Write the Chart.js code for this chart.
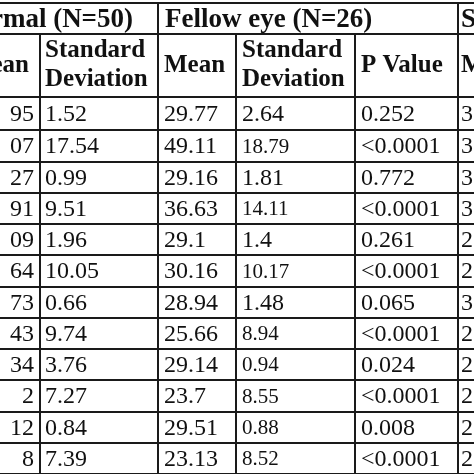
<!DOCTYPE html>
<html><head><meta charset="utf-8">
<script src="https://cdn.jsdelivr.net/npm/chart.js@4/dist/chart.umd.min.js"></script>
<style>html,body{margin:0;padding:0;background:#fff}#w{width:474px;height:474px}</style>
</head><body><div id="w"><canvas id="c"></canvas></div>
<script>
const groupHeaders = ["Normal (N=50)", "Fellow eye (N=26)", "S"];
const normalMean = ["95","07","27","91","09","64","73","43","34","2","12","8"];
const normalSD = ["1.52","17.54","0.99","9.51","1.96","10.05","0.66","9.74","3.76","7.27","0.84","7.39"];
const fellowMean = ["29.77","49.11","29.16","36.63","29.1","30.16","28.94","25.66","29.14","23.7","29.51","23.13"];
const fellowSD = ["2.64","18.79","1.81","14.11","1.4","10.17","1.48","8.94","0.94","8.55","0.88","8.52"];
const fellowSDsmall = [false,true,false,true,false,true,false,true,true,true,true,true];
const pValues = ["0.252","<0.0001","0.772","<0.0001","0.261","<0.0001","0.065","<0.0001","0.024","<0.0001","0.008","<0.0001"];
const nextCol = ["3","3","3","3","2","2","3","2","2","2","2","2"];

const colX = [40,158,236,355,458];
const rowY = [3,34,97,130,162,193,224,255,287,318,349,380,412,443,474];

const tablePlugin = {
  id:'table',
  afterDraw(chart){
    const ctx = chart.ctx, xs = chart.scales.x, ys = chart.scales.y;
    const X = v=>xs.getPixelForValue(v), Y = v=>ys.getPixelForValue(v);
    ctx.save();
    ctx.fillStyle='#fff'; ctx.fillRect(0,0,chart.width,chart.height);
    ctx.strokeStyle='#1a1a1a'; ctx.lineWidth=2;
    rowY.forEach(y=>{ctx.beginPath();ctx.moveTo(X(0),Y(y));ctx.lineTo(X(474),Y(y));ctx.stroke();});
    colX.forEach((x,i)=>{
      const top = (i===0||i===2||i===3) ? rowY[1] : rowY[0];
      ctx.beginPath();ctx.moveTo(X(x),Y(top));ctx.lineTo(X(x),Y(474));ctx.stroke();
    });
    ctx.fillStyle='#111'; ctx.textBaseline='middle';
    const reg='24px "Liberation Serif", serif';
    ctx.font='bold 27px "Liberation Serif", serif'; ctx.textAlign='right';
    ctx.fillText(groupHeaders[0], X(133), Y(20));
    ctx.textAlign='left';
    ctx.fillText(groupHeaders[1], X(165), Y(20));
    ctx.fillText(groupHeaders[2], X(461), Y(20));
    ctx.font='bold 25px "Liberation Serif", serif';
    ctx.textAlign='right'; ctx.fillText("Mean", X(29), Y(66));
    ctx.textAlign='left';
    ctx.fillText("Standard", X(45), Y(51)); ctx.fillText("Deviation", X(45), Y(80));
    ctx.fillText("Mean", X(164), Y(66));
    ctx.fillText("Standard", X(242), Y(51)); ctx.fillText("Deviation", X(242), Y(80));
    ctx.fillText("P Value", X(361), Y(66));
    ctx.fillText("M", X(461), Y(66));
    for(let i=0;i<normalSD.length;i++){
      const cy = Y((rowY[i+2]+rowY[i+3])/2+1);
      ctx.font=reg;
      ctx.textAlign='right'; ctx.fillText(normalMean[i], X(34), cy);
      ctx.textAlign='left';
      ctx.fillText(normalSD[i], X(45), cy);
      ctx.fillText(fellowMean[i], X(164), cy);
      ctx.fillText(pValues[i], X(361), cy);
      ctx.fillText(nextCol[i], X(461), cy);
      ctx.font = fellowSDsmall[i] ? '21px "Liberation Serif", serif' : reg;
      ctx.fillText(fellowSD[i], X(242), cy);
    }
    ctx.restore();
  }
};

new Chart(document.getElementById('c'), {
  type:'scatter',
  data:{datasets:[{data:[],pointRadius:0}]},
  options:{
    responsive:true, maintainAspectRatio:false, animation:false,
    layout:{padding:0},
    plugins:{legend:{display:false},tooltip:{enabled:false}},
    scales:{
      x:{type:'linear',min:0,max:474,display:false},
      y:{type:'linear',min:0,max:474,reverse:true,display:false}
    }
  },
  plugins:[tablePlugin]
});
</script></body></html>
